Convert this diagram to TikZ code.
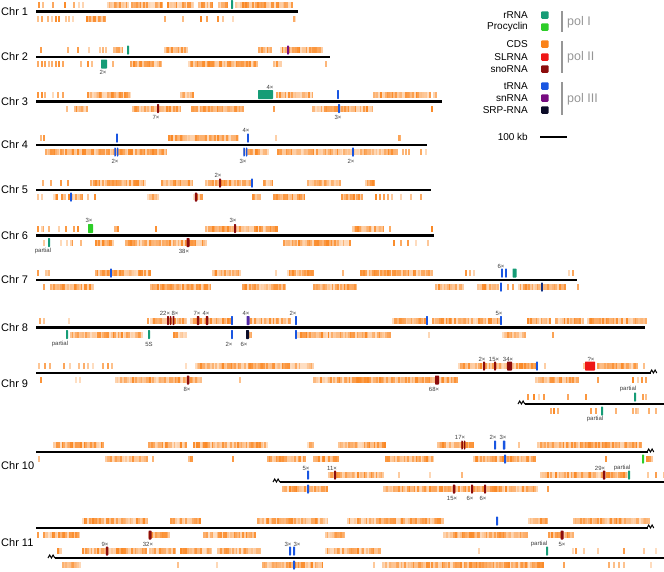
\documentclass[tikz,border=0pt]{standalone}
\usepackage{fontspec}
\setmainfont{Liberation Sans}
\usepackage{tikz}
\usetikzlibrary{
  positioning
}
\definecolor{rrnacolor}{RGB}{22, 156, 118}
\definecolor{proccolor}{RGB}{45, 205, 40}
\definecolor{cdscolor}{RGB}{250, 130, 25}
\definecolor{slrnacolor}{RGB}{238, 22, 22}
\definecolor{snornacolor}{RGB}{140, 12, 12}
\definecolor{trnacolor}{RGB}{25, 85, 225}
\definecolor{snrnacolor}{RGB}{118, 12, 128}
\definecolor{srpcolor}{RGB}{12, 12, 40}
\definecolor{polcolor}{RGB}{150, 150, 150}
\definecolor{countcolor}{RGB}{60, 60, 60}
\tikzset{
chrline/.style={
  line width=2.6pt,
  draw=black
},
zigline/.style={
  line width=1pt,
  draw=black
},
chrlabel/.style={
  font=\fontsize{11}{12}\selectfont,
  anchor=west,
  inner sep=0pt
},
legtext/.style={
  font=\fontsize{10}{11}\selectfont,
  anchor=east,
  inner sep=0pt
},
legbox/.style={
  rounded corners=1pt,
  minimum size=7.5pt,
  inner sep=0pt,
  anchor=west
},
poltext/.style={
  font=\fontsize{12.5}{13}\selectfont,
  text=polcolor,
  anchor=west,
  inner sep=0pt
},
polbar/.style={
  draw=polcolor,
  line width=1.3pt
},
cntlabel/.style={
  font=\fontsize{6}{7}\selectfont,
  text=countcolor,
  inner sep=0pt
}
}
% one row of coding genes: centre y, list of start/end
\newcommand{\cdsrow}[2]{%
  \foreach \a/\b in {#2}{%
    \pgfmathtruncatemacro\nstripe{(\b-\a)/1.7}%
    \foreach \i in {0,...,\nstripe}{%
      \pgfmathsetmacro\op{0.25+0.7*rnd}%
      \fill[cdscolor, fill opacity=\op] ({\a+1.7*\i},{#1-3}) rectangle ++(1.7,6);%
    }%
  }%
}
\newcommand{\zigzag}[2]{%
  \draw[zigline] (#1,#2) -- ++(1.7,-3) -- ++(1.7,3) -- ++(1.7,-3) -- ++(1.7,3);%
}

\begin{document}
\begin{tikzpicture}[x=1pt,y=-1pt]
  \useasboundingbox (0,0) rectangle (664,571);
  \pgfmathsetseed{17}

  % chromosomes
  \foreach \n/\y in {1/11.5, 2/57, 3/101.5, 4/145, 5/190, 6/235.5, 7/280, 8/327.5, 9/384, 10/466, 11/543}
    \node[chrlabel] (chr\n) at (1,\y) {Chr \n};
  \foreach \y/\e in {11.5/298, 57/330, 101.5/442, 145/427, 190/431, 235.5/434, 280/577, 327.5/645, 373/651, 452/648, 528/648}
    \draw[chrline] (36,\y) -- (\e,\y);
  \draw[chrline] (525,404) -- (664,404);
  \draw[chrline] (280,482) -- (664,482);
  \draw[chrline] (55,558) -- (664,558);
  \zigzag{650}{373}
  \zigzag{518}{404}
  \zigzag{647}{452}
  \zigzag{273}{482}
  \zigzag{647}{528}
  \zigzag{48}{558}

  % CDS
  \cdsrow{4.5}{38/38, 42/42, 52/52, 64/64, 73/73, 78/78, 82/82, 107/128, 131/163, 167/193, 198/213, 218/227, 235/292}
  \cdsrow{18.5}{37/38, 41/42, 47/48, 51/52, 55/56, 58/58, 65/66, 68/68, 72/72, 86/105, 164/164, 182/182, 200/201, 206/207, 217/218, 222/223, 232/232, 293/295}
  \cdsrow{50}{40/40, 67/67, 77/77, 88/88, 99/99, 102/102, 105/105, 113/123, 164/187, 258/270, 280/322}
  \cdsrow{64}{37/38, 41/41, 44/45, 48/48, 51/52, 55/55, 58/59, 62/63, 80/80, 87/88, 91/91, 112/112, 130/162, 188/257, 273/280, 325/325}
  \cdsrow{94.5}{37/38, 41/41, 44/44, 52/53, 57/57, 62/63, 87/130, 180/192, 276/312, 373/430, 433/433, 435/435}
  \cdsrow{108.5}{66/66, 74/86, 132/180, 191/242, 273/273, 312/373, 431/431}
  \cdsrow{138}{40/40, 43/43, 168/238, 275/275, 398/401}
  \cdsrow{152}{45/167, 243/268, 277/396, 402/403, 405/405, 408/408, 420/420, 425/425}
  \cdsrow{183}{42/42, 50/50, 60/60, 67/67, 90/145, 161/193, 205/250, 263/272, 307/340, 365/375}
  \cdsrow{197}{37/37, 41/42, 53/58, 61/65, 68/82, 87/87, 94/94, 147/158, 193/203, 252/260, 273/305, 341/363, 375/375, 379/379, 383/383, 387/387, 391/392, 400/400, 410/410, 420/420}
  \cdsrow{228.5}{37/38, 41/43, 48/48, 58/58, 65/65, 73/73, 77/78, 114/119, 155/155, 205/277, 352/383, 389/389, 431/431}
  \cdsrow{242.5}{43/43, 60/60, 66/66, 70/72, 80/80, 95/112, 125/205, 283/350, 393/393, 400/400, 407/407, 415/415, 427/427}
  \cdsrow{273}{37/37, 45/50, 95/150, 212/240, 275/275, 287/313, 342/342, 360/433, 465/466, 469/469, 473/473, 568/569, 572/573}
  \cdsrow{287}{43/43, 50/93, 150/210, 242/285, 313/357, 435/463, 477/498, 507/507, 512/512, 518/565, 577/577}
  \cdsrow{320.5}{39/39, 43/43, 68/68, 147/147, 150/187, 190/230, 247/290, 392/425, 432/500, 527/550, 555/583, 587/645}
  \cdsrow{334.5}{70/143, 173/185, 249/251, 297/390, 428/428, 502/525, 552/552}
  \cdsrow{366}{38/39, 44/44, 49/50, 63/64, 69/70, 78/79, 83/83, 87/88, 92/93, 102/103, 107/107, 111/112, 185/185, 195/313, 458/535, 544/544, 583/583, 597/637, 643/643}
  \cdsrow{380}{40/40, 75/76, 79/80, 115/200, 239/239, 313/457, 535/578, 597/597, 632/633, 637/637, 641/641, 645/645}
  \cdsrow{397}{527/527, 533/533, 538/538, 543/543, 567/567, 585/585, 642/642, 645/645}
  \cdsrow{411}{550/550, 553/553, 557/557, 590/590, 595/595, 615/615, 632/632, 635/635, 637/637, 648/648, 655/655}
  \cdsrow{445}{53/103, 148/187, 193/267, 307/313, 338/385, 437/473, 518/518, 537/642}
  \cdsrow{459}{38/38, 105/147, 152/152, 188/192, 232/232, 267/305, 313/338, 385/433, 473/535, 605/605, 646/652}
  \cdsrow{475}{328/383, 398/398, 429/429, 461/461, 540/628, 647/647, 655/655, 663/663}
  \cdsrow{489}{282/327, 383/537, 547/547}
  \cdsrow{521}{82/147, 170/200, 257/327, 347/443, 528/547, 573/648}
  \cdsrow{535}{37/37, 43/80, 148/170, 203/255, 325/345, 443/527, 548/573}
  \cdsrow{551}{57/62, 82/146, 149/175, 180/212, 217/260, 325/380, 478/478, 572/572, 575/575, 583/583, 597/597, 623/623, 643/643, 655/655}
  \cdsrow{565}{62/80, 177/177, 216/216, 262/323, 373/373, 382/542, 563/563, 608/608, 613/613, 618/618, 623/623, 650/650}

  % RNA genes
  \foreach \c/\x/\y/\w in {
    rrnacolor/232/4.5/2,
    rrnacolor/128/50/2, snrnacolor/288/50/2, rrnacolor/104/64/6,
    rrnacolor/265.5/94.5/15, trnacolor/338/94.5/1.8, snornacolor/158/108.5/2, trnacolor/339/108.5/2,
    trnacolor/117/138/1.8, trnacolor/248/138/1.8, trnacolor/115/152/1.5, trnacolor/117.5/152/1.5,
    trnacolor/244/152/1.5, trnacolor/246.5/152/1.5, trnacolor/353/152/1.8,
    snornacolor/220/183/2, trnacolor/252/183/1.8, trnacolor/71/197/1.8, snornacolor/196/197/2.5,
    proccolor/90.5/228.5/5, snornacolor/235/228.5/2, rrnacolor/49/242.5/2, snornacolor/188/242.5/3,
    trnacolor/111/273/1.8, trnacolor/502/273/1.8, trnacolor/506/273/1.8, rrnacolor/514.5/273/4,
    trnacolor/501/287/1.8, trnacolor!50!srpcolor/542/287/1.8,
    snornacolor/168/320.5/2, snornacolor/170.5/320.5/1.5, snornacolor/173.5/320.5/1.8,
    snornacolor/198/320.5/2.5, snornacolor/207/320.5/2.5, trnacolor/232/320.5/1.8,
    snrnacolor!60!trnacolor/248/320.5/3, trnacolor/296/320.5/1.8, trnacolor/427/320.5/1.8,
    trnacolor/501/320.5/1.8, rrnacolor/67/334.5/2, rrnacolor/149/334.5/2, trnacolor/232/334.5/1.8,
    srpcolor/247.5/334.5/3, trnacolor/296/334.5/1.8,
    snornacolor/484/366/2, snornacolor/495/366/2, snornacolor/509.5/366/5, trnacolor/537/366/1.8,
    slrnacolor/590/366/10, snornacolor/188/380/2.5, snornacolor/437/380/4,
    rrnacolor/635/397/2, rrnacolor/602/411/2,
    snornacolor/462/445/1.5, snornacolor/464.5/445/1.5, trnacolor/495/445/2, trnacolor/504/445/2.5,
    trnacolor/505/459/2, proccolor/643/459/2,
    trnacolor/308/475/2, snornacolor/335/475/2, snornacolor/604/475/2.5, rrnacolor/629/475/2,
    trnacolor/308/489/2, snornacolor/454/489/2.5, snornacolor/472/489/2, snornacolor/485/489/2,
    trnacolor/497/521/2, snornacolor/150/535/3, snornacolor/562/535/3,
    snornacolor/107/551/2.5, trnacolor/290/551/2, trnacolor/294/551/2, rrnacolor/547/551/2,
    trnacolor/294/565/2}
    \fill[fill=\c, rounded corners=0.6pt] ({\x-\w/2},{\y-4.5}) rectangle ({\x+\w/2},{\y+4.5});

  % copy numbers
  \foreach \x/\y/\t [count=\i] in {
    103/72/2×, 270/87/4×, 156/117/7×, 338/117/3×,
    246/130/4×, 115/161/2×, 243/161/3×, 351/161/2×, 218/175/2×,
    89/220/3×, 233/220/3×, 43/251/partial, 184/251/38×, 501/266/6×,
    165/313/22×, 175/313/8×, 197/313/7×, 206/313/4×, 246/313/4×, 293/313/2×, 499/313/5×,
    60/344/partial, 149/344/5S, 229/344/2×, 244/344/6×,
    482/359/2×, 494/359/15×, 508/359/34×, 591/359/?×, 187/389/8×, 434/389/68×,
    628/389/partial, 595/419/partial,
    460/437/17×, 493/437/2×, 503/437/3×, 306/468/5×, 332/468/11×, 600/468/29×, 622/468/partial,
    452/498/15×, 470/498/6×, 483/498/6×,
    148/544/32×, 562/544/5×, 105/544/9×, 288/544/3×, 297/544/3×, 539/544/partial}
    \node[cntlabel] (cnt\i) at (\x,\y) {\t};

  % legend
  \foreach \k/\y/\t in {rrna/15/rRNA, proc/27/Procyclin, cds/44/CDS, slrna/57/SLRNA,
                        snorna/69/snoRNA, trna/86/tRNA, snrna/98/snRNA, srp/110/SRP-RNA}{
    \node[legtext] (leg-\k) at (528,\y) {\t};
    \node[legbox, fill=\k color, right=13pt of leg-\k] (box-\k) {};
  }
  \draw[polbar] (562,11) -- (562,32);
  \draw[polbar] (562,41) -- (562,73);
  \draw[polbar] (562,82) -- (562,115);
  \node[poltext] (pol1) at (567,22) {pol I};
  \node[poltext] (pol2) at (567,57.5) {pol II};
  \node[poltext] (pol3) at (567,99) {pol III};
  \node[legtext] (kb) at (528,137) {100 kb};
  \draw[line width=1.4pt] (540,137) -- (567,137);
\end{tikzpicture}
\end{document}
